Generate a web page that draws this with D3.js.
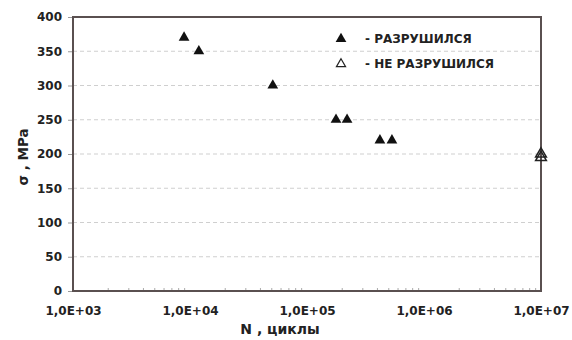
<!DOCTYPE html>
<html><head><meta charset="utf-8">
<script src="https://cdn.jsdelivr.net/npm/d3@7"></script>
<style>
body{margin:0;background:#fff;}
svg{display:block;font-family:"DejaVu Sans",sans-serif;font-weight:bold;}
</style></head>
<body>
<svg id="c" width="572" height="340"></svg>
<script>
// Data
const brokenN = [8900, 11900, 51000, 177000, 220000, 420000, 532000];
const brokenS = [370, 350, 300, 250, 250, 220, 220];
const unbrokenN = [10000000, 10000000];
const unbrokenS = [200, 195];
const xTicks = [1e3, 1e4, 1e5, 1e6, 1e7];
const xTickLabels = ["1,0E+03", "1,0E+04", "1,0E+05", "1,0E+06", "1,0E+07"];
const yTicks = [0, 50, 100, 150, 200, 250, 300, 350, 400];
const legendLabels = ["- РАЗРУШИЛСЯ", "- НЕ РАЗРУШИЛСЯ"];

const FONT = "DejaVu Sans, sans-serif";
const L = 73, R = 541, T = 17, B = 291;
const svg = d3.select("#c");
const x = d3.scaleLog().domain([1e3, 1e7]).range([L, R]);
const y = d3.scaleLinear().domain([0, 400]).range([B, T]);

// grid
svg.append("g").selectAll("line").data(yTicks.filter(v => v > 0 && v < 400)).join("line")
  .attr("x1", L).attr("x2", R).attr("y1", d => y(d)).attr("y2", d => y(d))
  .attr("stroke", "#cfcfcf").attr("stroke-width", 1).attr("stroke-dasharray", "4,3");

// minor x ticks (inward)
const minor = [];
for (let e = 3; e < 7; e++) for (let k = 2; k <= 9; k++) minor.push(k * Math.pow(10, e));
svg.append("g").selectAll("line").data(minor).join("line")
  .attr("x1", d => x(d)).attr("x2", d => x(d)).attr("y1", B).attr("y2", B - 3)
  .attr("stroke", "#aaa").attr("stroke-width", 1);

// axes
const yAxis = d3.axisLeft(y).tickValues(yTicks).tickSize(5).tickPadding(6);
const gy = svg.append("g").attr("transform", `translate(${L},0)`).call(yAxis);
gy.select(".domain").remove();
gy.selectAll("line").attr("stroke", "#999");
gy.selectAll("text").attr("font-size", 12).attr("font-weight", "bold").attr("fill", "#222")
  .attr("font-family", FONT);

const xAxis = d3.axisBottom(x).tickValues(xTicks).tickFormat((d, i) => xTickLabels[i]).tickSize(0).tickPadding(15);
const gx = svg.append("g").attr("transform", `translate(0,${B})`).call(xAxis);
gx.select(".domain").remove();
gx.selectAll("text").attr("font-size", 12).attr("font-weight", "bold").attr("fill", "#222")
  .attr("font-family", FONT);

// frame
svg.append("rect").attr("x", L).attr("y", T).attr("width", R - L).attr("height", B - T)
  .attr("fill", "none").attr("stroke", "#5a5050").attr("stroke-width", 2);

// triangles
const tri = d3.symbol().type(d3.symbolTriangle).size(50);
svg.append("g").selectAll("path").data(brokenN.map((n, i) => [n, brokenS[i]])).join("path")
  .attr("d", tri).attr("transform", d => `translate(${x(d[0])},${y(d[1])})`)
  .attr("fill", "#111");
svg.append("g").selectAll("path").data(unbrokenN.map((n, i) => [n, unbrokenS[i]])).join("path")
  .attr("d", tri).attr("transform", d => `translate(${x(d[0])},${y(d[1])})`)
  .attr("fill", "none").attr("stroke", "#222").attr("stroke-width", 1.5);

// legend
const lg = svg.append("g");
lg.append("path").attr("d", tri).attr("transform", "translate(341,39)").attr("fill", "#111");
lg.append("path").attr("d", d3.symbol().type(d3.symbolTriangle).size(36)).attr("transform", "translate(341,64)")
  .attr("fill", "none").attr("stroke", "#222").attr("stroke-width", 1.2);
lg.selectAll("text").data(legendLabels).join("text")
  .attr("x", 365).attr("y", (d, i) => 43 + i * 25).attr("font-size", 12).attr("fill", "#222").text(d => d);

// axis titles
svg.append("text").attr("x", 280).attr("y", 334).attr("text-anchor", "middle")
  .attr("font-size", 14).attr("fill", "#222").text("N , циклы");
svg.append("text").attr("transform", "translate(28,157) rotate(-90)").attr("text-anchor", "middle")
  .attr("font-size", 13.5).attr("fill", "#222").text("σ , MPa");
</script>
</body></html>
